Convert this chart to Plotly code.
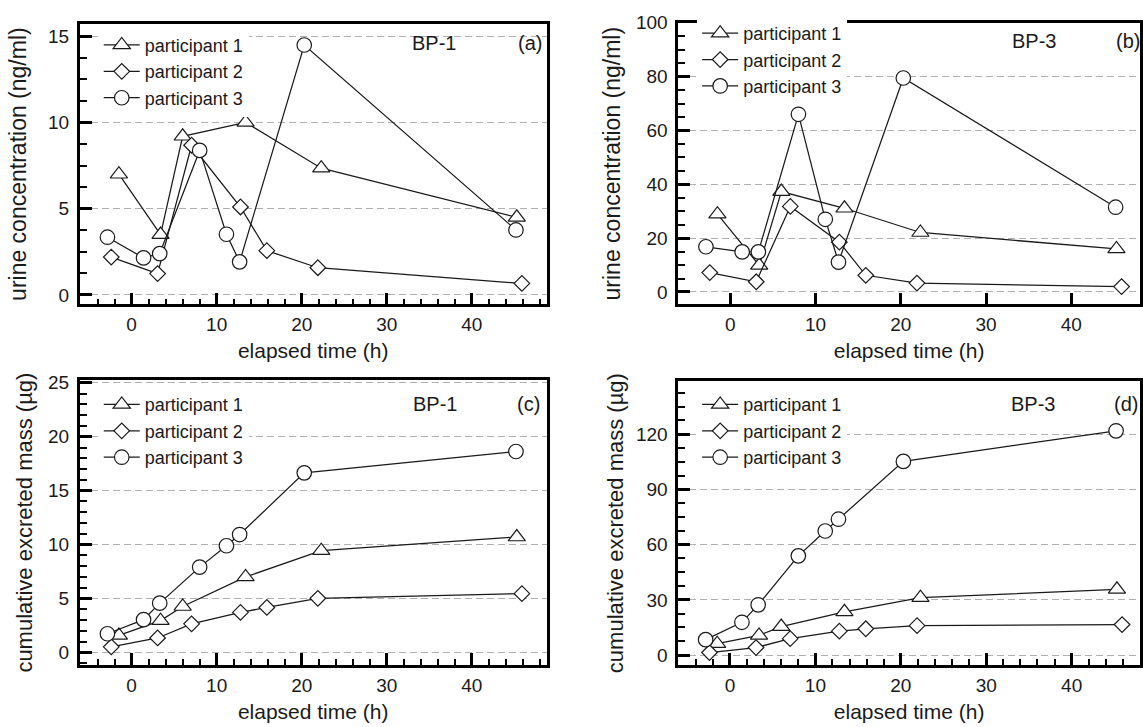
import plotly.graph_objects as go

W, H = 1143, 727

# elapsed time (h) of each urine void
t_p1 = [-1.5, 3.4, 6.0, 13.4, 22.3, 45.3]
t_p2 = [-2.4, 3.05, 7.05, 12.8, 15.9, 21.9, 45.9]
t_p3 = [-2.85, 1.4, 3.3, 8.0, 11.15, 12.7, 20.3, 45.2]

# (a) BP-1 urine concentration (ng/ml)
bp1_conc_p1 = [7.0, 3.5, 9.2, 10.0, 7.35, 4.5]
bp1_conc_p2 = [2.2, 1.24, 8.68, 5.1, 2.57, 1.58, 0.67]
bp1_conc_p3 = [3.35, 2.15, 2.4, 8.38, 3.52, 1.92, 14.49, 3.77]
# (b) BP-3 urine concentration (ng/ml)
bp3_conc_p1 = [28.9, 9.9, 37.3, 31.1, 22.1, 16.0]
bp3_conc_p2 = [7.2, 3.8, 31.8, 18.5, 6.2, 3.3, 2.0]
bp3_conc_p3 = [16.8, 14.9, 14.9, 66.0, 27.0, 11.1, 79.5, 31.5]
# (c) BP-1 cumulative excreted mass (µg)
bp1_cum_p1 = [1.58, 2.95, 4.26, 7.0, 9.44, 10.7]
bp1_cum_p2 = [0.52, 1.34, 2.65, 3.71, 4.17, 5.02, 5.45]
bp1_cum_p3 = [1.73, 3.04, 4.57, 7.91, 9.89, 10.93, 16.65, 18.63]
# (d) BP-3 cumulative excreted mass (µg)
bp3_cum_p1 = [6.2, 10.7, 15.5, 23.5, 31.2, 35.7]
bp3_cum_p2 = [1.4, 4.1, 8.9, 13.0, 14.3, 16.0, 16.6]
bp3_cum_p3 = [8.4, 17.8, 27.3, 53.9, 67.4, 73.8, 105.2, 121.8]

names = ["participant 1", "participant 2", "participant 3"]
symbols = ["triangle-up", "diamond", "circle"]
msizes = [15, 12, 14.5]
times = [t_p1, t_p2, t_p3]

panels = [
    dict(series=[bp1_conc_p1, bp1_conc_p2, bp1_conc_p3], compound="BP-1", tag="(a)"),
    dict(series=[bp3_conc_p1, bp3_conc_p2, bp3_conc_p3], compound="BP-3", tag="(b)"),
    dict(series=[bp1_cum_p1, bp1_cum_p2, bp1_cum_p3], compound="BP-1", tag="(c)"),
    dict(series=[bp3_cum_p1, bp3_cum_p2, bp3_cum_p3], compound="BP-3", tag="(d)"),
]

FONT = "Liberation Sans, Arial, sans-serif"
INK = "#1a1a1a"

fig = go.Figure()
for i, p in enumerate(panels):
    ax = "" if i == 0 else str(i + 1)
    for k in range(3):
        fig.add_trace(go.Scatter(
            x=times[k], y=p["series"][k], name=names[k],
            mode="lines+markers",
            xaxis="x" + ax, yaxis="y" + ax,
            legend="legend" + ax, legendgroup=f"g{i}{k}",
            line=dict(color=INK, width=1.25),
            marker=dict(symbol=symbols[k], size=msizes[k], color="white",
                        line=dict(color=INK, width=1.2)),
            cliponaxis=False,
        ))

# pixel geometry of the four panels (left, right, top, bottom)
boxes = [(80, 548, 14, 299), (680, W, 13, 299), (80, 548, 376, 665), (680, W, 377, 665)]
xranges = [[-6.1, 48.8], [-6.1, 48.06], [-6.1, 48.8], [-6.06, 48.0]]
yranges = [[-0.55, 15.72], [-4.64, 100.0], [-1.16, 25.23], [-5.35, 148.7]]
ydticks = [5, 20, 5, 30]
yminor = [1.25, 5, 1.0, 7.5]
xminor = [2, None, 2, 2]
ytitles = ["urine concentration (ng/ml)", "urine concentration (ng/ml)",
           "cumulative excreted mass (µg)", "cumulative excreted mass (µg)"]
ytitle_size = [23, 23, 22, 22]
ystandoff = [15, 9, 10, 7]
legend_top = [3, -8, 6, 5]   # offset of legend top below panel top (px)

layout = dict(
    width=W, height=H, margin=dict(l=0, r=0, t=0, b=0),
    paper_bgcolor="white", plot_bgcolor="white",
    font=dict(family=FONT, color=INK),
    showlegend=True,
)
annotations = []
for i in range(4):
    ax = "" if i == 0 else str(i + 1)
    l, r, t, b = boxes[i]
    xd = [l / W, min(r / W, 1.0)]
    yd = [1 - b / H, 1 - t / H]
    xa = dict(
        domain=xd, range=xranges[i], anchor="y" + ax,
        showline=True, linewidth=2.6, linecolor="black", mirror=True,
        ticks="inside", ticklen=12, tickwidth=2.5, tickcolor="black",
        dtick=10, tick0=0, showgrid=False, zeroline=False,
        tickfont=dict(size=19, family=FONT, color=INK),
        ticklabelstandoff=1,
        title=dict(text="elapsed time (h)", font=dict(size=21, family=FONT, color=INK), standoff=10),
    )
    if xminor[i]:
        xa["minor"] = dict(dtick=xminor[i], tick0=0, ticks="inside", ticklen=6,
                           tickwidth=1.6, tickcolor="black", showgrid=False)
    ya = dict(
        domain=yd, range=yranges[i], anchor="x" + ax,
        showline=True, linewidth=2.6, linecolor="black", mirror=True,
        ticks="inside", ticklen=12, tickwidth=2.5, tickcolor="black",
        dtick=ydticks[i], tick0=0, zeroline=False,
        showgrid=True, gridcolor="#b0b0b0", gridwidth=1, griddash="7px,4px",
        tickfont=dict(size=19, family=FONT, color=INK),
        ticklabelstandoff=4,
        minor=dict(dtick=yminor[i], tick0=0, ticks="inside", ticklen=7,
                   tickwidth=1.6, tickcolor="black", showgrid=False),
        title=dict(text=ytitles[i], font=dict(size=ytitle_size[i], family=FONT, color=INK),
                   standoff=ystandoff[i]),
    )
    layout["xaxis" + ax] = xa
    layout["yaxis" + ax] = ya
    layout["legend" + ax] = dict(
        x=(l + 19) / W, y=1 - (t + legend_top[i]) / H, xanchor="left", yanchor="top",
        bgcolor="white", borderwidth=0, itemwidth=36,
        font=dict(size=18, family=FONT, color=INK),
        traceorder="grouped", tracegroupgap=0,
        itemclick=False,
    )

label_pos = [((435, 34), (531, 34)), ((1037, 31), (1131, 31)),
             ((436, 400), (530, 400)), ((1036, 400), (1129, 400))]
for i, p in enumerate(panels):
    (cx, cy), (tx, ty) = label_pos[i]
    annotations.append(dict(x=cx / W, y=1 - cy / H, xref="paper", yref="paper",
                            text=p["compound"], showarrow=False,
                            font=dict(size=20, family=FONT, color=INK),
                            xanchor="center", yanchor="middle"))
    annotations.append(dict(x=tx / W, y=1 - ty / H, xref="paper", yref="paper",
                            text=p["tag"], showarrow=False,
                            font=dict(size=20, family=FONT, color=INK),
                            xanchor="center", yanchor="middle"))
layout["annotations"] = annotations

fig.update_layout(**layout)
fig.write_html(
    "out.html",
    config={"displayModeBar": False},
    post_script="document.body.style.margin='0px';document.body.style.overflow='hidden';",
)
